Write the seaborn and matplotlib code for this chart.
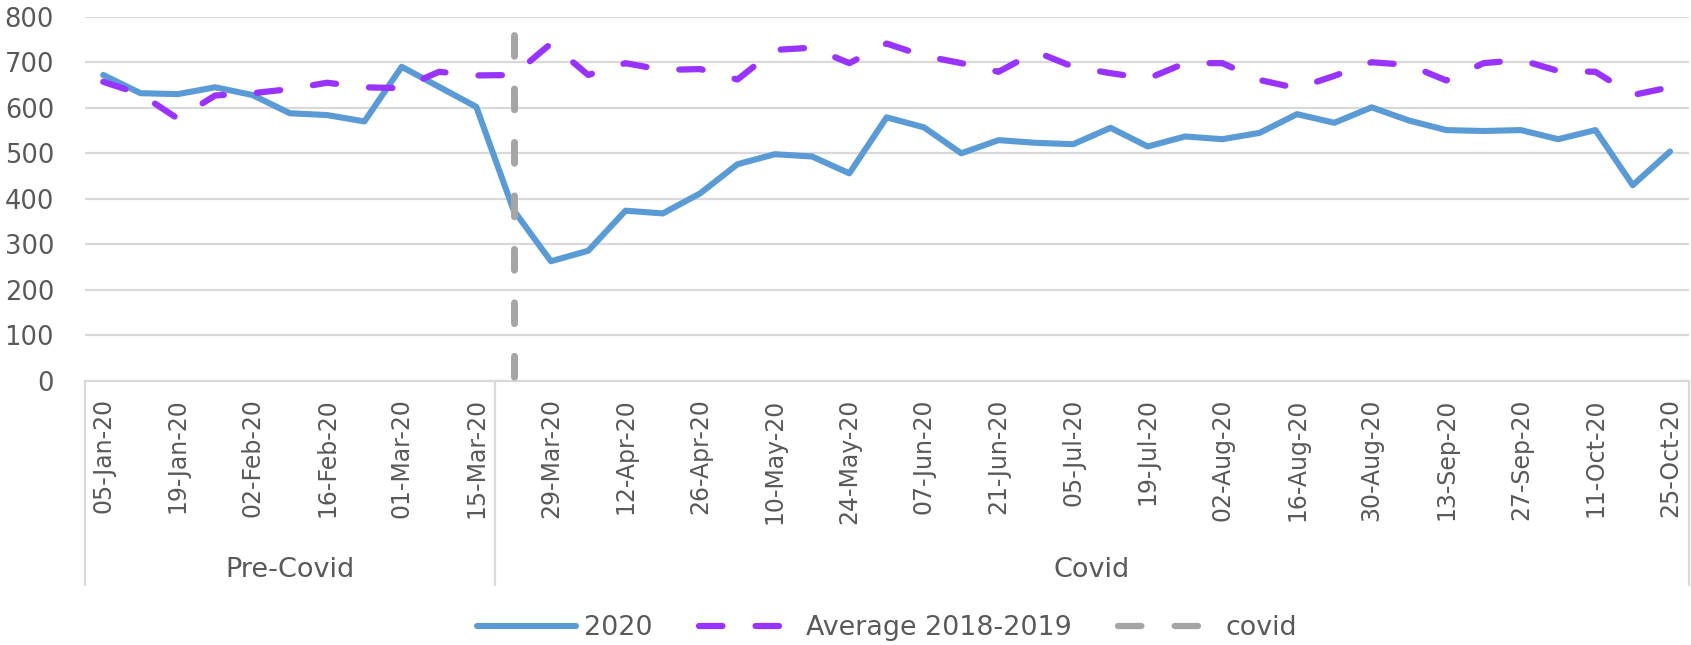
import numpy as np
import pandas as pd
import matplotlib
matplotlib.use("Agg")
import matplotlib.pyplot as plt
import seaborn as sns
from matplotlib.lines import Line2D

# ---------------- data ----------------
dates = [
    "05-Jan-20", "12-Jan-20", "19-Jan-20", "26-Jan-20", "02-Feb-20", "09-Feb-20",
    "16-Feb-20", "23-Feb-20", "01-Mar-20", "08-Mar-20", "15-Mar-20", "22-Mar-20",
    "29-Mar-20", "05-Apr-20", "12-Apr-20", "19-Apr-20", "26-Apr-20", "03-May-20",
    "10-May-20", "17-May-20", "24-May-20", "31-May-20", "07-Jun-20", "14-Jun-20",
    "21-Jun-20", "28-Jun-20", "05-Jul-20", "12-Jul-20", "19-Jul-20", "26-Jul-20",
    "02-Aug-20", "09-Aug-20", "16-Aug-20", "23-Aug-20", "30-Aug-20", "06-Sep-20",
    "13-Sep-20", "20-Sep-20", "27-Sep-20", "04-Oct-20", "11-Oct-20", "18-Oct-20",
    "25-Oct-20",
]
values_2020 = [
    672, 632, 630, 645, 628, 588, 584, 570, 690, 646, 602, 375,
    263, 286, 374, 368, 412, 476, 498, 493, 456, 579, 557, 500,
    529, 523, 520, 556, 515, 537, 531, 545, 586, 567, 601, 572,
    551, 549, 551, 531, 551, 430, 504,
]
values_avg = [
    657, 630, 576, 627, 632, 641, 655, 645, 643, 679, 671, 672,
    741, 672, 698, 683, 685, 662, 727, 732, 698, 741, 714, 698,
    679, 723, 690, 676, 664, 698, 698, 661, 643, 670, 700, 694,
    660, 698, 705, 681, 679, 628, 645,
]
groups = ["Pre-Covid", "Covid"]
group_sizes = [11, 32]
covid_date = "22-Mar-20"
covid_top = 759
y_ticks = [0, 100, 200, 300, 400, 500, 600, 700, 800]
series_labels = ["2020", "Average 2018-2019", "covid"]

# ---------------- style ----------------
BLUE = "#5B9BD5"
PURPLE = "#9933FF"
GRAY = "#A5A5A5"
GRID = "#D9D9D9"
TXT = "#595959"

sns.set_style("white")
plt.rcParams["font.family"] = ["DejaVu Sans"]

W, H = 1691, 645
fig = plt.figure(figsize=(W / 100, H / 100), dpi=100)
ax = fig.add_axes([84.6 / W, 1 - 381 / H, (1688.7 - 84.6) / W, (381 - 16.7) / H])

df = pd.DataFrame({"date": dates, "v2020": values_2020, "vavg": values_avg})

LW_BLUE = 4.4
LW_PURPLE = 4.5
LW_GRAY = 5.0
PURPLE_DASH = (0, (3.75, 5.3))
GRAY_DASH = (0, (3.0, 4.7))

sns.lineplot(data=df, x="date", y="v2020", ax=ax, color=BLUE, linewidth=LW_BLUE,
             solid_capstyle="round", solid_joinstyle="round", sort=False, zorder=3)
sns.lineplot(data=df, x="date", y="vavg", ax=ax, color=PURPLE, linewidth=LW_PURPLE,
             linestyle=PURPLE_DASH, dash_capstyle="round", dash_joinstyle="round",
             sort=False, zorder=4)
ax.plot([covid_date, covid_date], [covid_top, 0], color=GRAY, lw=LW_GRAY,
        linestyle=GRAY_DASH, dash_capstyle="round", zorder=5)

n = len(dates)
ax.set_xlim(-0.5, n - 0.5)
ax.set_ylim(y_ticks[0], y_ticks[-1])
ax.set_yticks(y_ticks)
ax.set_xticks(list(range(0, n, 2)))
ax.set_xticklabels(dates[::2], rotation=90, fontsize=17, color=TXT)
ax.tick_params(axis="x", length=0, pad=12.5)
ax.tick_params(axis="y", length=0, pad=22, labelsize=18.5, labelcolor=TXT)
ax.set_xlabel("")
ax.set_ylabel("")

ax.yaxis.grid(True, color=GRID, lw=1.6)
ax.xaxis.grid(False)
ax.set_axisbelow(True)
for s in ["left", "right", "top"]:
    ax.spines[s].set_visible(False)
ax.spines["bottom"].set_color(GRID)
ax.spines["bottom"].set_linewidth(1.6)

# group separators and labels below the axis
trans = ax.get_xaxis_transform()
bounds = [-0.5]
for g in group_sizes:
    bounds.append(bounds[-1] + g)
for b in bounds:
    ax.add_line(Line2D([b, b], [0, -0.56], transform=trans, color=GRID, lw=1.6,
                       clip_on=False))
for g, lo, hi in zip(groups, bounds[:-1], bounds[1:]):
    ax.text((lo + hi) / 2, -0.519, g, transform=trans, ha="center", va="center",
            fontsize=19.5, color=TXT)

handles = [
    Line2D([], [], color=BLUE, lw=LW_BLUE, solid_capstyle="round"),
    Line2D([], [], color=PURPLE, lw=LW_PURPLE, linestyle=PURPLE_DASH, dash_capstyle="round"),
    Line2D([], [], color=GRAY, lw=LW_PURPLE, linestyle=PURPLE_DASH, dash_capstyle="round"),
]
fig.legend(handles, series_labels, loc="center", bbox_to_anchor=(887 / W, 1 - 628 / H),
           ncol=3, frameon=False, fontsize=19.4, handlelength=3.7, handletextpad=0.3,
           columnspacing=1.7, labelcolor=TXT)

fig.savefig("out.png", dpi=100)
